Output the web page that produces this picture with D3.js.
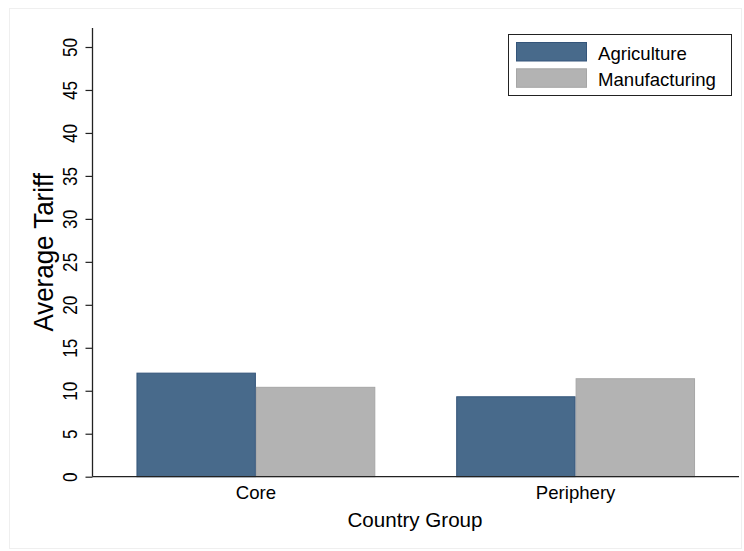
<!DOCTYPE html>
<html lang="en">
<head>
<meta charset="utf-8">
<title>Average Tariff by Country Group</title>
<script src="https://cdnjs.cloudflare.com/ajax/libs/d3/7.8.5/d3.min.js"></script>
<style>
  body { margin: 0; background: #fff; }
  text { font-family: "Liberation Sans", Arial, Helvetica, sans-serif; fill: #000; }
</style>
</head>
<body>
<script>
// data
var groups = ["Core", "Periphery"];
var sectors = ["Agriculture", "Manufacturing"];
var agriculture = [12.05, 9.3];
var manufacturing = [10.4, 11.4];
var yTicks = [0, 5, 10, 15, 20, 25, 30, 35, 40, 45, 50];

var fills = ["#486a8b", "#b3b3b3"];
var strokes = ["#34557a", "#a6a6a6"];

var w = 744, h = 551;
var plotLeft = 92.5, plotRight = 739, plotTop = 28, plotBottom = 476.7;

var svg = d3.select("body").append("svg")
  .attr("width", w)
  .attr("height", h);

// faint outer frame
svg.append("rect")
  .attr("x", 9.5).attr("y", 8.5)
  .attr("width", w - 12).attr("height", h - 11)
  .attr("fill", "none")
  .attr("stroke", "#efefef");

var y = d3.scaleLinear().domain([0, 50]).range([plotBottom, 47]);

var x0 = d3.scaleBand().domain(groups)
  .range([plotLeft, plotRight])
  .paddingInner(0.253)
  .paddingOuter(0.1375);

var x1 = d3.scaleBand().domain(sectors).range([0, x0.bandwidth()]);

var rows = groups.map(function(g, i) {
  return { group: g, values: [agriculture[i], manufacturing[i]] };
});

// bars
var gBars = svg.append("g");
rows.forEach(function(r) {
  r.values.forEach(function(v, j) {
    gBars.append("rect")
      .attr("x", x0(r.group) + x1(sectors[j]) + 0.5)
      .attr("y", y(v))
      .attr("width", x1.bandwidth() - 1)
      .attr("height", y(0) - y(v))
      .attr("fill", fills[j])
      .attr("stroke", strokes[j])
      .attr("stroke-width", 1);
  });
});

// y axis
var yAxis = svg.append("g")
  .attr("transform", "translate(" + plotLeft + ",0)")
  .call(d3.axisLeft(y).tickValues(yTicks).tickSize(7).tickPadding(8).tickSizeOuter(0));
yAxis.select(".domain").remove();
yAxis.append("line")
  .attr("x1", 0).attr("x2", 0)
  .attr("y1", plotTop).attr("y2", plotBottom)
  .attr("stroke", "#222").attr("stroke-width", 1.3);
yAxis.selectAll(".tick line").attr("stroke", "#222").attr("stroke-width", 1.2);
yAxis.selectAll(".tick text")
  .style("font-size", "20px")
  .attr("x", null).attr("dy", null)
  .attr("text-anchor", "middle")
  .attr("transform", "translate(-15.5,0) rotate(-90) scale(0.86,1)");

// x axis
var xAxis = svg.append("g")
  .attr("transform", "translate(0," + plotBottom + ")")
  .call(d3.axisBottom(x0).tickSize(0).tickPadding(9));
xAxis.select(".domain").remove();
xAxis.append("line")
  .attr("x1", plotLeft).attr("x2", plotRight)
  .attr("stroke", "#222").attr("stroke-width", 1.3);
xAxis.selectAll(".tick text").style("font-size", "18.6px").attr("dy", "0.71em");

// axis titles
svg.append("text")
  .attr("transform", "translate(52.5," + ((plotTop + plotBottom) / 2) + ") rotate(-90) scale(0.96,1)")
  .attr("text-anchor", "middle")
  .style("font-size", "27px")
  .text("Average Tariff");

svg.append("text")
  .attr("x", 415).attr("y", 526.5)
  .attr("text-anchor", "middle")
  .style("font-size", "20.6px")
  .text("Country Group");

// legend
var leg = svg.append("g");
leg.append("rect")
  .attr("x", 508.5).attr("y", 34.5)
  .attr("width", 223).attr("height", 61)
  .attr("fill", "#fff")
  .attr("stroke", "#222").attr("stroke-width", 1);
sectors.forEach(function(s, j) {
  leg.append("rect")
    .attr("x", 516.5).attr("y", 42.5 + j * 26.3)
    .attr("width", 70).attr("height", 18.5)
    .attr("fill", fills[j]).attr("stroke", strokes[j]);
  leg.append("text")
    .attr("x", 598).attr("y", 60 + j * 26.3)
    .style("font-size", "18.6px")
    .text(s);
});
</script>
</body>
</html>
